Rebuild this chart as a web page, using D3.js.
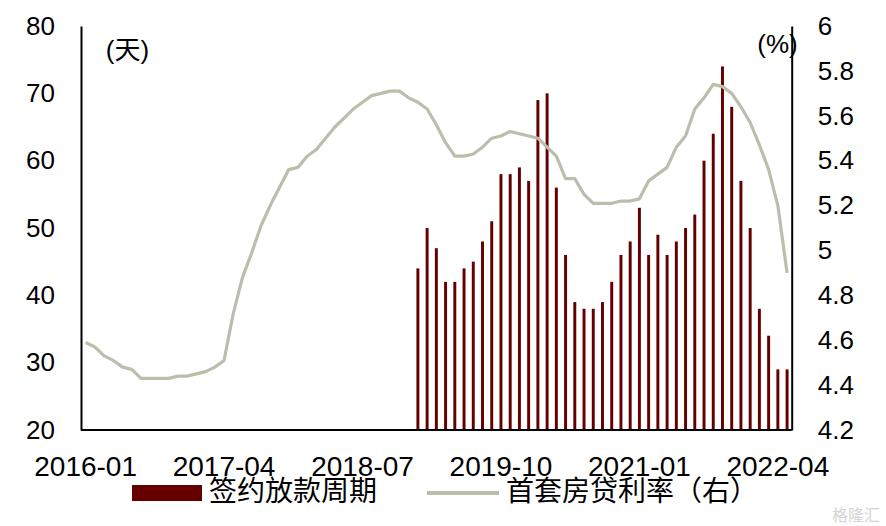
<!DOCTYPE html>
<html>
<head>
<meta charset="utf-8">
<script src="https://cdn.jsdelivr.net/npm/d3@7/dist/d3.min.js"></script>
<style>
  html, body { margin: 0; padding: 0; background: #fff; }
  svg { display: block; }
  text { font-family: "Liberation Sans", Arial, "Noto Sans CJK SC", sans-serif; fill: #000; }
  .cjk { font-family: "Noto Sans CJK SC", "Liberation Sans", sans-serif; }
</style>
</head>
<body>
<svg id="chart" width="886" height="526"></svg>
<script>
// ---------- data ----------
const startYear = 2016, startMonth = 1, monthCount = 77; // 2016-01 .. 2022-05
const months = [];
for (let k = 0; k < monthCount; k++) {
  const y = startYear + Math.floor((startMonth - 1 + k) / 12);
  const m = (startMonth - 1 + k) % 12 + 1;
  months.push(y + "-" + String(m).padStart(2, "0"));
}
const xTickLabels = ["2016-01", "2017-04", "2018-07", "2019-10", "2021-01", "2022-04"];
const leftTicks = [20, 30, 40, 50, 60, 70, 80];
const rightTicks = [4.2, 4.4, 4.6, 4.8, 5, 5.2, 5.4, 5.6, 5.8, 6];

// 签约放款周期 (天), monthly from 2019-01
const cycleStart = "2019-01";
const cycleDays = [44, 50, 47, 42, 42, 44, 45, 48, 51, 58, 58, 59, 57, 69, 70, 56, 46, 39, 38, 38,
                   39, 42, 46, 48, 53, 46, 49, 46, 48, 50, 52, 60, 64, 74, 68, 57, 50, 38, 34, 29, 29];

// 首套房贷利率 (%), monthly from 2016-01
const firstHomeRate = [4.59, 4.57, 4.53, 4.51, 4.48, 4.47, 4.43, 4.43, 4.43, 4.43,
                       4.44, 4.44, 4.45, 4.46, 4.48, 4.51, 4.72, 4.88, 4.99, 5.11,
                       5.20, 5.28, 5.36, 5.37, 5.42, 5.45, 5.50, 5.55, 5.59, 5.63,
                       5.66, 5.69, 5.70, 5.71, 5.71, 5.68, 5.66, 5.63, 5.56, 5.48,
                       5.42, 5.42, 5.43, 5.46, 5.50, 5.51, 5.53, 5.52, 5.51, 5.50,
                       5.46, 5.42, 5.32, 5.32, 5.25, 5.21, 5.21, 5.21, 5.22, 5.22,
                       5.23, 5.31, 5.34, 5.37, 5.46, 5.51, 5.63, 5.68, 5.74, 5.73,
                       5.70, 5.64, 5.57, 5.47, 5.36, 5.20, 4.90];

const seriesNames = ["签约放款周期", "首套房贷利率（右）"];
const leftUnit = "(天)", rightUnit = "(%)";

// ---------- layout ----------
const plot = { left: 81, right: 791.7, top: 26, bottom: 430 };
const barColor = "#660000", lineColor = "#bdbdad";

const svg = d3.select("#chart");

const x = d3.scaleBand().domain(months).range([plot.left, plot.right])
  .paddingInner(0.68).paddingOuter(0.34);
const yL = d3.scaleLinear().domain([20, 80]).range([plot.bottom, plot.top]);
const yR = d3.scaleLinear().domain([4.2, 6]).range([plot.bottom, plot.top]);

const cx = m => x(m) + x.bandwidth() / 2;

// bars
const barStartIdx = months.indexOf(cycleStart);
const barData = cycleDays.map((v, i) => ({ m: months[barStartIdx + i], v }));
svg.append("g").selectAll("rect").data(barData).join("rect")
  .attr("x", d => x(d.m))
  .attr("width", x.bandwidth())
  .attr("y", d => yL(d.v))
  .attr("height", d => yL(20) - yL(d.v))
  .attr("fill", barColor);

// line
const lineData = firstHomeRate.map((v, i) => ({ m: months[i], v }));
svg.append("path").datum(lineData)
  .attr("fill", "none")
  .attr("stroke", lineColor)
  .attr("stroke-width", 3.2)
  .attr("stroke-linejoin", "round")
  .attr("d", d3.line().x(d => cx(d.m)).y(d => yR(d.v)));

// axes
const styleAxis = (g, size) => {
  g.select(".domain").attr("stroke", "#000").attr("stroke-width", 2);
  g.selectAll("text").attr("font-size", size + "px").attr("fill", "#000")
    .attr("font-family", "Liberation Sans, Arial, sans-serif");
};

svg.append("g").attr("transform", `translate(${plot.left},0)`)
  .call(d3.axisLeft(yL).tickValues(leftTicks).tickSize(0).tickSizeOuter(0).tickPadding(26).tickFormat(d3.format("d")))
  .call(g => styleAxis(g, 26));

svg.append("g").attr("transform", `translate(${plot.right},0)`)
  .call(d3.axisRight(yR).tickValues(rightTicks).tickSize(0).tickSizeOuter(0).tickPadding(26).tickFormat(d => String(+d.toFixed(1))))
  .call(g => styleAxis(g, 26));

const xAxisG = svg.append("g").attr("transform", `translate(0,${plot.bottom})`)
  .call(d3.axisBottom(x).tickValues(xTickLabels).tickSize(0).tickSizeOuter(0))
  .call(g => styleAxis(g, 28));
xAxisG.selectAll("text").attr("dy", null).attr("y", 46);
xAxisG.select(".domain").attr("d", `M${plot.left},0H${plot.right}`);

// unit labels
svg.append("text").attr("x", 127.5).attr("y", 50).attr("dy", "0.36em")
  .attr("text-anchor", "middle").attr("font-size", "26px").text(leftUnit);
svg.append("text").attr("x", 777.5).attr("y", 44).attr("dy", "0.36em")
  .attr("text-anchor", "middle").attr("font-size", "26px").text(rightUnit);

// legend
const lg = svg.append("g");
lg.append("rect").attr("x", 132).attr("y", 485).attr("width", 70).attr("height", 16).attr("fill", barColor);
lg.append("text").attr("class", "cjk").attr("x", 209).attr("y", 501).attr("font-size", "28px").text(seriesNames[0]);
lg.append("line").attr("x1", 427).attr("x2", 499).attr("y1", 493).attr("y2", 493)
  .attr("stroke", lineColor).attr("stroke-width", 4);
lg.append("text").attr("class", "cjk").attr("x", 506).attr("y", 501).attr("font-size", "28px").text(seriesNames[1]);

// watermark
svg.append("text").attr("class", "cjk").attr("x", 880).attr("y", 521).attr("text-anchor", "end")
  .attr("font-size", "16px").style("fill", "#d4d4d4").text("格隆汇");
</script>
</body>
</html>
